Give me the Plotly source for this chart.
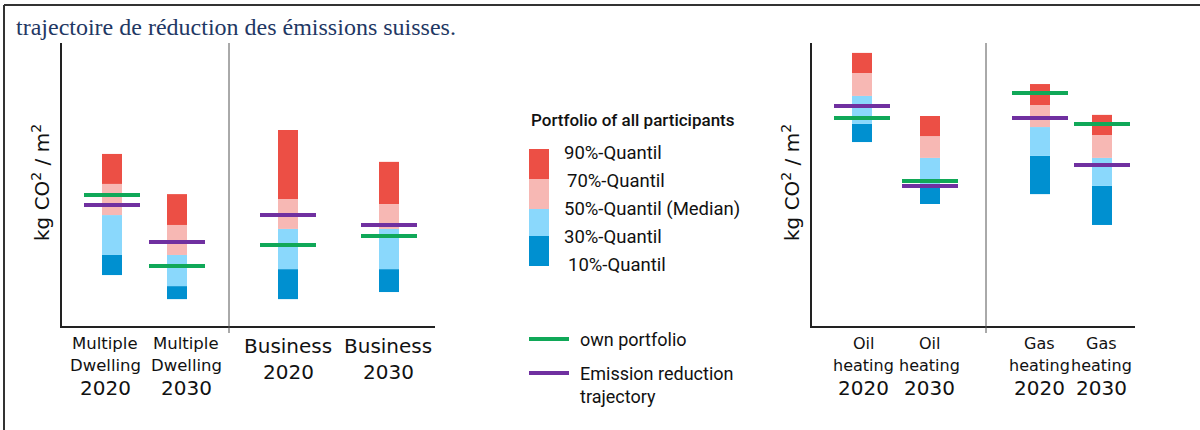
import plotly.graph_objects as go

# ---------------- data (arbitrary kg CO2/m2 scale 0-100) ----------------
left_labels = [["Multiple", "Dwelling", "2020"], ["Multiple", "Dwelling", "2030"],
               ["Business", "2020"], ["Business", "2030"]]
q10_left = [18.0, 9.5, 9.5, 12.0]
q30_left = [25.1, 14.1, 20.1, 20.1]
q50_left = [39.2, 25.1, 34.3, 34.3]
q70_left = [50.2, 35.7, 44.9, 43.1]
q90_left = [60.8, 46.6, 69.3, 58.0]
own_left = [46.3, 21.2, 28.6, 31.8]
traj_left = [42.8, 29.7, 39.2, 35.7]

right_labels = [["Oil", "heating", "2020"], ["Oil", "heating", "2030"],
                ["Gas", "heating", "2020"], ["Gas", "heating", "2030"]]
q10_right = [65.0, 43.1, 46.6, 35.7]
q30_right = [71.4, 48.8, 60.1, 49.5]
q50_right = [81.3, 59.4, 70.3, 59.4]
q70_right = [89.4, 67.1, 78.1, 67.5]
q90_right = [96.5, 74.2, 85.5, 74.6]
own_right = [73.5, 51.2, 82.3, 71.4]
traj_right = [77.7, 49.5, 73.5, 56.9]

legend_title = "Portfolio of all participants"
quantile_labels = ["90%-Quantil", "70%-Quantil", "50%-Quantil (Median)", "30%-Quantil", "10%-Quantil"]
line_labels = ["own portfolio", "Emission reduction<br>trajectory"]
title_text = "trajectoire de réduction des émissions suisses."
y_title = "kg CO<sup>2</sup> / m<sup>2</sup>"

# ---------------- layout / style ----------------
W, H = 1200, 430
left_pos = [50, 115, 226, 327]      # bar positions along left x axis (layout)
left_lab_pos = [43, 124, 226, 326]  # label positions along left x axis (layout)
right_pos = [50, 118, 228, 290]     # bar positions along right x axis (layout)
right_lab_pos = [51, 117, 227, 289]
left_div, right_div = 167, 174
band_colors = ["#0090d0", "#8ad8fc", "#f7b8b4", "#ec4f45"]  # 10-30, 30-50, 50-70, 70-90
green, purple = "#10a858", "#7030a0"
tick_font = "DejaVu Sans"
leg_font = "Roboto"


def px(x):
    return x / W


def py(y):
    return 1 - y / H


fig = go.Figure()


def add_panel(xa, ya, pos, q10, q30, q50, q70, q90, own, traj):
    bounds = [q10, q30, q50, q70, q90]
    for k in range(4):
        fig.add_trace(go.Bar(
            x=pos, base=bounds[k], y=[u - l for u, l in zip(bounds[k + 1], bounds[k])],
            width=20, marker=dict(color=band_colors[k], line=dict(width=0)),
            xaxis=xa, yaxis=ya, showlegend=False, hoverinfo="skip"))
    for vals, col in ((own, green), (traj, purple)):
        fig.add_trace(go.Scatter(
            x=pos, y=vals, mode="markers",
            marker=dict(symbol="line-ew", size=40, line=dict(color=col, width=4)),
            xaxis=xa, yaxis=ya, showlegend=False, hoverinfo="skip"))


add_panel("x", "y", left_pos, q10_left, q30_left, q50_left, q70_left, q90_left, own_left, traj_left)
add_panel("x2", "y2", right_pos, q10_right, q30_right, q50_right, q70_right, q90_right, own_right, traj_right)

ax_common = dict(showgrid=False, zeroline=False, showticklabels=False, ticks="",
                 showline=True, linecolor="#222", linewidth=2, fixedrange=True)
fig.update_layout(
    width=W, height=H, margin=dict(l=0, r=0, t=0, b=0),
    paper_bgcolor="white", plot_bgcolor="white", barmode="overlay",
    xaxis=dict(domain=[px(62), px(435)], range=[0, 373], anchor="y", **ax_common),
    yaxis=dict(domain=[py(326), py(43)], range=[0, 100], anchor="x", **ax_common),
    xaxis2=dict(domain=[px(812), px(1135)], range=[0, 323], anchor="y2", **ax_common),
    yaxis2=dict(domain=[py(326), py(43)], range=[0, 100], anchor="x2", **ax_common),
)

shapes = []
annotations = []

# frame lines (top and left)
shapes.append(dict(type="line", xref="paper", yref="paper", x0=px(4), x1=1, y0=py(5), y1=py(5),
                   line=dict(color="#333", width=2)))
shapes.append(dict(type="line", xref="paper", yref="paper", x0=px(4), x1=px(4), y0=py(5), y1=0,
                   line=dict(color="#333", width=2)))

# dividers
for xr, d in (("x", left_div), ("x2", right_div)):
    shapes.append(dict(type="line", xref=xr, yref="paper", x0=d, x1=d, y0=py(333), y1=py(43),
                       line=dict(color="#555", width=1)))

# title
annotations.append(dict(text=title_text, xref="paper", yref="paper", x=px(14), y=py(27),
                        xanchor="left", yanchor="middle", showarrow=False,
                        font=dict(family="Liberation Serif", size=24, color="#1f3864")))

# y axis titles
for xc in (41, 791):
    annotations.append(dict(text=y_title, xref="paper", yref="paper", x=px(xc), y=py(183),
                            textangle=-90, xanchor="center", yanchor="middle", showarrow=False,
                            font=dict(family=tick_font, size=20, color="#111")))


# category labels
def add_labels(xr, pos, labels, small):
    for p, lines in zip(pos, labels):
        if len(lines) == 3:
            ys, sizes = [343, 365, 388], [small, small, 20]
        else:
            ys, sizes = [346, 372], [20, 20]
        for t, yy, s in zip(lines, ys, sizes):
            annotations.append(dict(text=t, xref=xr, yref="paper", x=p, y=py(yy),
                                    xanchor="center", yanchor="middle", showarrow=False,
                                    font=dict(family=tick_font, size=s, color="#111")))


add_labels("x", left_lab_pos, left_labels, 16.5)
add_labels("x2", right_lab_pos, right_labels, 16)

# manual legend
annotations.append(dict(text=legend_title, xref="paper", yref="paper", x=px(529), y=py(120),
                        xanchor="left", yanchor="middle", showarrow=False,
                        font=dict(family=leg_font, size=17, color="#111", weight=500)))
sw = [(149, 179), (179, 209), (209, 236), (236, 266)]
sw_cols = ["#ec4f45", "#f7b8b4", "#8ad8fc", "#0090d0"]
for (y0, y1), c in zip(sw, sw_cols):
    shapes.append(dict(type="rect", xref="paper", yref="paper", x0=px(529), x1=px(549),
                       y0=py(y1), y1=py(y0), fillcolor=c, line=dict(width=0)))
q_y = [153, 181, 209, 237, 265]
q_x = [562, 565, 562, 562, 566]
for t, yy, xx in zip(quantile_labels, q_y, q_x):
    annotations.append(dict(text=t, xref="paper", yref="paper", x=px(xx), y=py(yy),
                            xanchor="left", yanchor="middle", showarrow=False,
                            font=dict(family=leg_font, size=18.5, color="#111")))
for (yy, c) in ((339, green), (373, purple)):
    shapes.append(dict(type="line", xref="paper", yref="paper", x0=px(529), x1=px(569),
                       y0=py(yy), y1=py(yy), line=dict(color=c, width=4)))
annotations.append(dict(text=line_labels[0], xref="paper", yref="paper", x=px(578), y=py(339),
                        xanchor="left", yanchor="middle", showarrow=False,
                        font=dict(family=leg_font, size=18, color="#111")))
annotations.append(dict(text=line_labels[1], xref="paper", yref="paper", x=px(578), y=py(361),
                        xanchor="left", yanchor="top", showarrow=False, align="left",
                        font=dict(family=leg_font, size=18, color="#111")))

fig.update_layout(shapes=shapes, annotations=annotations)
fig.write_html("out.html", config={"displayModeBar": False},
               post_script="document.body.style.margin='0px';document.body.style.padding='0px';"
                           "document.body.style.overflow='hidden';")
